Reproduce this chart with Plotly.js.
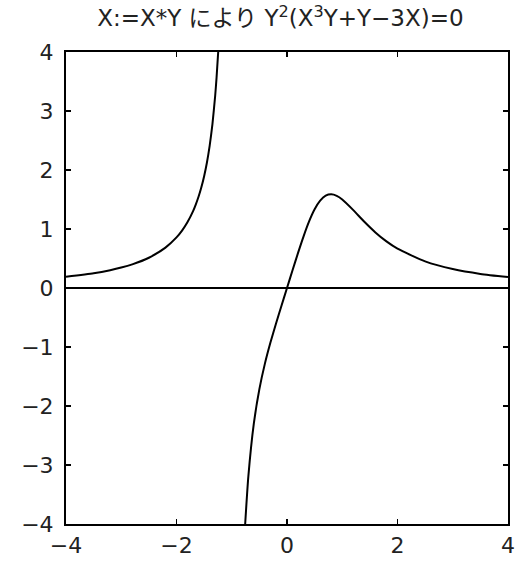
<!DOCTYPE html>
<html>
<head>
<meta charset="utf-8">
<script src="https://cdn.plot.ly/plotly-3.0.1.min.js"></script>
<style>html,body{margin:0;padding:0;background:#fff;}#chart{width:529px;height:561px;}</style>
</head>
<body>
<div id="chart"></div>
<script>
// Left branch (X < -1)
const leftX = [-4, -3.5, -3.2, -3, -2.8, -2.5, -2.2, -2, -1.9, -1.8, -1.7, -1.65, -1.6, -1.55, -1.5, -1.45, -1.4, -1.35, -1.3, -1.275, -1.25, -1.245];
const leftY = [0.19, 0.25, 0.302, 0.346, 0.401, 0.513, 0.684, 0.857, 0.973, 1.118, 1.303, 1.418, 1.55, 1.707, 1.895, 2.123, 2.408, 2.774, 3.258, 3.566, 3.935, 4.0];
// Right branch (X > -1)
const rightX = [-0.757, -0.7, -0.6, -0.5, -0.4, -0.3, -0.2, -0.1, 0, 0.1, 0.2, 0.3, 0.4, 0.5, 0.6, 0.7, 0.8, 0.9, 1.0, 1.2, 1.4, 1.6, 1.8, 2.0, 2.5, 3.0, 3.5, 4.0];
const rightY = [-4.0, -3.196, -2.296, -1.714, -1.282, -0.925, -0.605, -0.3, 0, 0.3, 0.595, 0.876, 1.128, 1.333, 1.48, 1.564, 1.587, 1.562, 1.5, 1.32, 1.122, 0.942, 0.79, 0.667, 0.451, 0.321, 0.239, 0.185];
// Y = 0 solution
const zeroX = [-4, 4];
const zeroY = [0, 0];

const xTicks = [-4, -2, 0, 2, 4];
const yTicks = [-4, -3, -2, -1, 0, 1, 2, 3, 4];
const titleText = "X:=X*Y により Y<sup>2</sup>(X<sup>3</sup>Y+Y−3X)=0";

const traces = [
  {x: leftX, y: leftY, mode: 'lines', line: {color: '#000', width: 2, shape: 'spline', smoothing: 0.5}, hoverinfo: 'skip'},
  {x: rightX, y: rightY, mode: 'lines', line: {color: '#000', width: 2, shape: 'spline', smoothing: 0.6}, hoverinfo: 'skip'},
  {x: zeroX, y: zeroY, mode: 'lines', line: {color: '#000', width: 2}, hoverinfo: 'skip'}
];

const fontFam = '"DejaVu Sans", "Noto Sans CJK JP", sans-serif';
const axisCommon = {
  showgrid: false, zeroline: false, showline: true, mirror: 'ticks',
  linecolor: '#000', linewidth: 2, ticks: 'inside', ticklen: 5, tickwidth: 1.5, tickcolor: '#000',
  tickfont: {family: fontFam, size: 22, color: '#222'}
};

const layout = {
  width: 529, height: 561,
  margin: {l: 66, r: 21, t: 52, b: 37},
  paper_bgcolor: '#fff', plot_bgcolor: '#fff',
  showlegend: false,
  title: {text: titleText, font: {family: fontFam, size: 23, color: '#222'}, x: 0.53, xanchor: 'center', y: 0.982, yanchor: 'top'},
  xaxis: Object.assign({}, axisCommon, {range: [-4, 4], tickvals: xTicks, ticktext: xTicks.map(v => v < 0 ? '−' + Math.abs(v) : String(v)), ticklabelstandoff: 1}),
  yaxis: Object.assign({}, axisCommon, {range: [-4, 4], tickvals: yTicks, ticktext: yTicks.map(v => v < 0 ? '−' + Math.abs(v) : String(v)), ticklabelstandoff: 6})
};

Plotly.newPlot('chart', traces, layout, {staticPlot: true, displayModeBar: false});
</script>
</body>
</html>
